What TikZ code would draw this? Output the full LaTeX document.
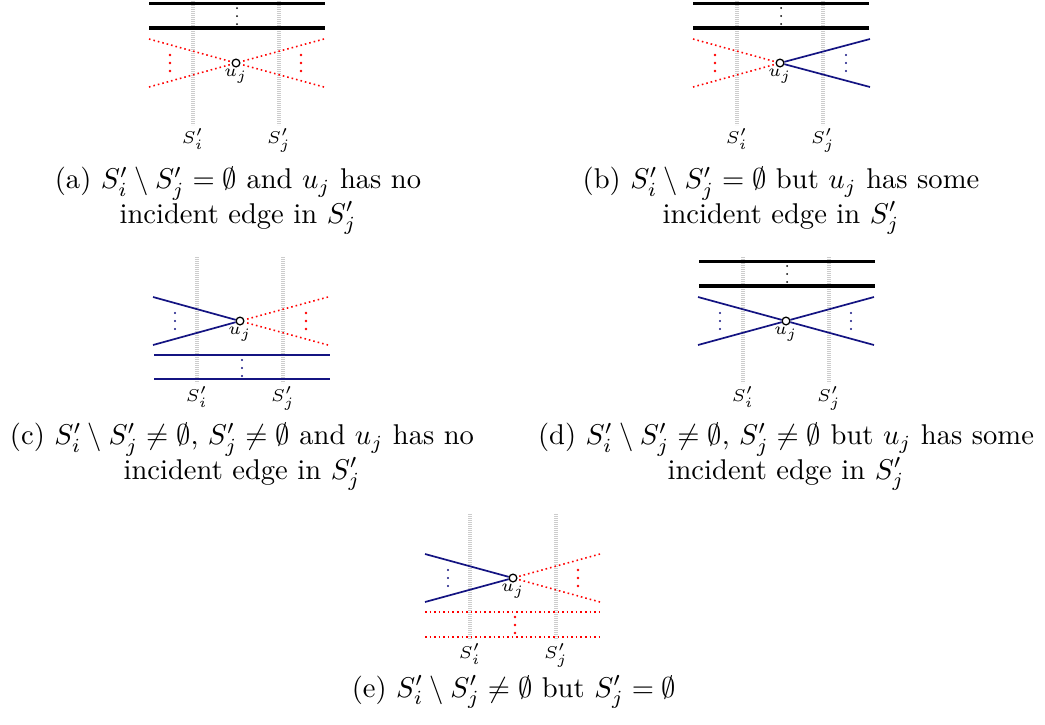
\documentclass[tikz,border=0pt]{standalone}
\usepackage{amsmath,amssymb}
\definecolor{navyb}{RGB}{20,20,130}
\tikzset{
  gridline/.style={draw=gray!40, line width=1.1pt, dash pattern=on 0.4pt off 0.3pt},
  thickline/.style={draw=black, line width=1.3pt},
  blueline/.style={draw=navyb, line width=0.6pt},
  redline/.style={draw=red, line width=0.55pt, dash pattern=on 0.55pt off 1.05pt},
  vert/.style={circle, draw, fill=white, inner sep=0pt, minimum size=2.7pt, line width=0.45pt},
  lbl/.style={font=\fontsize{6}{7}\selectfont, inner sep=0pt},
  captext/.style={align=center, inner sep=0pt}
}
\newcommand{\threedots}[4]{\foreach \dd in {-8,0,8} \fill[#3] (#1,#2+\dd) circle[radius=#4];}
\newcommand{\basepanel}{%
  \draw[gridline] (-43,-64) -- (-43,62);
  \draw[gridline] (43,-64) -- (43,62);
  \node[vert] (u) at (0,0) {};
  \node[lbl] (ul) at (0,13) {$u_j$};
  \node[lbl] (si) at (-43,76) {$S'_i$};
  \node[lbl] (sj) at (43,77) {$S'_j$};
}
\newcommand{\topthick}{%
  \draw[thickline] (-87,-59.5) -- (89,-59.5);
  \draw[thickline] (-87,-35) -- (89,-35);
  \threedots{1}{-47}{black}{0.35pt}
}
\begin{document}
\begin{tikzpicture}[x=0.35pt,y=-0.35pt]
\useasboundingbox (0,0) rectangle (1045,724);
% (a)
\begin{scope}[shift={(236,63)}, name prefix=a-]
  \basepanel
  \topthick
  \draw[redline] (-87,-24) coordinate (l1) -- (u);
  \draw[redline] (-87,24) coordinate (l2) -- (u);
  \draw[redline] (88,-24) coordinate (r1) -- (u);
  \draw[redline] (88,24) coordinate (r2) -- (u);
  \threedots{-66}{0}{red}{0.45pt}
  \threedots{65}{0}{red}{0.45pt}
\end{scope}
\node[captext] (capa) at (238,201) {(a) $S'_i \setminus S'_j = \emptyset$ and $u_j$ has no\\ incident edge in $S'_j$};
% (b)
\begin{scope}[shift={(780,63)}, name prefix=b-]
  \basepanel
  \topthick
  \draw[redline] (-87,-24) coordinate (l1) -- (u);
  \draw[redline] (-87,24) coordinate (l2) -- (u);
  \draw[blueline] (90,-24) coordinate (r1) -- (u);
  \draw[blueline] (90,24) coordinate (r2) -- (u);
  \threedots{-65}{0}{red}{0.45pt}
  \threedots{66}{0}{navyb}{0.4pt}
\end{scope}
\node[captext] (capb) at (781,201) {(b) $S'_i \setminus S'_j = \emptyset$ but $u_j$ has some\\ incident edge in $S'_j$};
% (c)
\begin{scope}[shift={(240,321)}, name prefix=c-]
  \basepanel
  \draw[blueline] (-87,-24) coordinate (l1) -- (u);
  \draw[blueline] (-87,24) coordinate (l2) -- (u);
  \draw[redline] (88,-24) coordinate (r1) -- (u);
  \draw[redline] (88,24) coordinate (r2) -- (u);
  \threedots{-65}{0}{navyb}{0.4pt}
  \threedots{66}{0}{red}{0.45pt}
  \draw[blueline] (-86,34) -- (90,34);
  \draw[blueline] (-86,58) -- (90,58);
  \threedots{2}{47}{navyb}{0.4pt}
\end{scope}
\node[captext] (capc) at (242,457) {(c) $S'_i \setminus S'_j \neq \emptyset$, $S'_j \neq \emptyset$ and $u_j$ has no\\ incident edge in $S'_j$};
% (d)
\begin{scope}[shift={(786,321)}, name prefix=d-]
  \basepanel
  \topthick
  \draw[blueline] (-88,-24) coordinate (l1) -- (u);
  \draw[blueline] (-88,24) coordinate (l2) -- (u);
  \draw[blueline] (88,-24) coordinate (r1) -- (u);
  \draw[blueline] (88,24) coordinate (r2) -- (u);
  \threedots{-66}{0}{navyb}{0.4pt}
  \threedots{65}{0}{navyb}{0.4pt}
\end{scope}
\node[captext] (capd) at (786,457) {(d) $S'_i \setminus S'_j \neq \emptyset$, $S'_j \neq \emptyset$ but $u_j$ has some\\ incident edge in $S'_j$};
% (e)
\begin{scope}[shift={(513,578)}, name prefix=e-]
  \basepanel
  \draw[blueline] (-88,-24) coordinate (l1) -- (u);
  \draw[blueline] (-88,24) coordinate (l2) -- (u);
  \draw[redline] (87,-24) coordinate (r1) -- (u);
  \draw[redline] (87,24) coordinate (r2) -- (u);
  \threedots{-65}{0}{navyb}{0.4pt}
  \threedots{65}{0}{red}{0.45pt}
  \draw[redline] (-88,34) -- (90,34);
  \draw[redline] (-88,59) -- (90,59);
  \threedots{2}{47}{red}{0.45pt}
\end{scope}
\node[captext] (cape) at (514,692) {(e) $S'_i \setminus S'_j \neq \emptyset$ but $S'_j = \emptyset$};
\end{tikzpicture}
\end{document}
